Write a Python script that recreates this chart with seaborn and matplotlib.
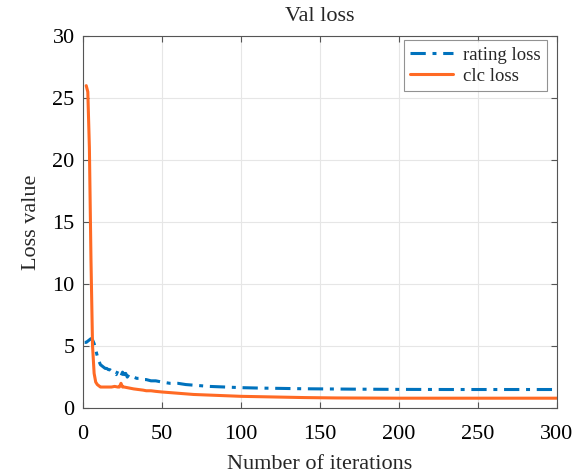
import matplotlib
matplotlib.use("Agg")
import matplotlib.pyplot as plt
import seaborn as sns
import pandas as pd

# Data
rating_x = [1, 2, 3, 4, 5, 6, 7, 8, 9, 10, 11, 12, 13, 14, 15, 16, 17, 18, 19, 20,
            21, 22, 23, 24, 25, 26, 27, 28, 29, 30, 32, 34, 36, 38, 40, 43, 46, 50,
            55, 60, 65, 70, 80, 90, 100, 110, 120, 130, 140, 150, 170, 200, 230, 260, 300]
rating_y = [5.3, 5.3, 5.4, 5.5, 5.6, 5.5, 5.2, 4.7, 4.2, 3.8, 3.5, 3.4, 3.3, 3.2, 3.2, 3.1, 3.1, 3.0, 2.9, 2.8,
            2.7, 3.0, 2.8, 2.6, 2.9, 2.7, 2.8, 2.5, 2.7, 2.6, 2.5, 2.4, 2.4, 2.3, 2.3, 2.2, 2.2, 2.1,
            2.0, 2.0, 1.9, 1.85, 1.75, 1.7, 1.65, 1.62, 1.6, 1.58, 1.56, 1.55, 1.53, 1.51, 1.5, 1.5, 1.5]

clc_x = [2, 3, 4, 5, 6, 7, 8, 9, 10, 11, 12, 14, 16, 18, 20, 22, 23, 24, 25, 26, 28, 30,
         32, 35, 38, 40, 43, 46, 50, 55, 60, 70, 80, 90, 100, 120, 140, 160, 200, 250, 300]
clc_y = [26.0, 25.5, 21.0, 12.0, 5.0, 2.8, 2.1, 1.9, 1.8, 1.7, 1.7, 1.7, 1.7, 1.7, 1.75, 1.7, 1.7, 2.0, 1.7, 1.7, 1.65, 1.6,
         1.55, 1.5, 1.45, 1.4, 1.4, 1.35, 1.3, 1.25, 1.2, 1.1, 1.05, 1.0, 0.95, 0.9, 0.85, 0.82, 0.8, 0.8, 0.8]

x_ticks = [0, 50, 100, 150, 200, 250, 300]
y_ticks = [0, 5, 10, 15, 20, 25, 30]

sns.set_theme(style="white")
plt.rcParams['font.family'] = ['Liberation Serif', 'DejaVu Serif']

df_r = pd.DataFrame({"x": rating_x, "y": rating_y})
df_c = pd.DataFrame({"x": clc_x, "y": clc_y})

fig = plt.figure(figsize=(5.85, 4.74), dpi=100)
ax = fig.add_axes([0.142, 0.139, 0.810, 0.785])

DASH = [5, 2.2, 1.3, 2.2]
sns.lineplot(data=df_r, x="x", y="y", ax=ax, color="#0072BD",
             linewidth=2.2, label="rating loss")
ax.lines[-1].set_dashes(DASH)
sns.lineplot(data=df_c, x="x", y="y", ax=ax, color="#FF6A24", linestyle="-",
             linewidth=2.2, label="clc loss")

ax.set_xlim(0, 300)
ax.set_ylim(0, 30)
ax.set_xticks(x_ticks)
ax.set_yticks(y_ticks)
ax.grid(True, color="#e6e6e6", linewidth=0.8)
ax.set_axisbelow(True)
for s in ax.spines.values():
    s.set_visible(True)
    s.set_color("#555555")
    s.set_linewidth(0.8)
ax.tick_params(direction="in", length=4, width=0.8, colors="#555555",
               labelcolor="black", labelsize=16, top=True, right=True,
               labeltop=False, labelright=False, bottom=True, left=True)
ax.tick_params(axis="x", pad=12)
ax.tick_params(axis="y", pad=6)
ax.set_title("Val loss", fontsize=16, y=1.0, pad=11)
ax.set_xlabel("Number of iterations", fontsize=16, labelpad=8)
ax.set_ylabel("Loss value", fontsize=16, labelpad=8)
leg = ax.legend(loc="upper right", bbox_to_anchor=(547 / 585, (474 - 40) / 474),
                bbox_transform=fig.transFigure, borderaxespad=0,
                fontsize=13.5, frameon=True, fancybox=False,
                edgecolor="#777777", handlelength=2.3,
                borderpad=0.35, labelspacing=0.2, handletextpad=0.5)
leg.get_frame().set_linewidth(0.8)
leg.legend_handles[0].set_dashes(DASH)

fig.savefig("out.png", dpi=100)
